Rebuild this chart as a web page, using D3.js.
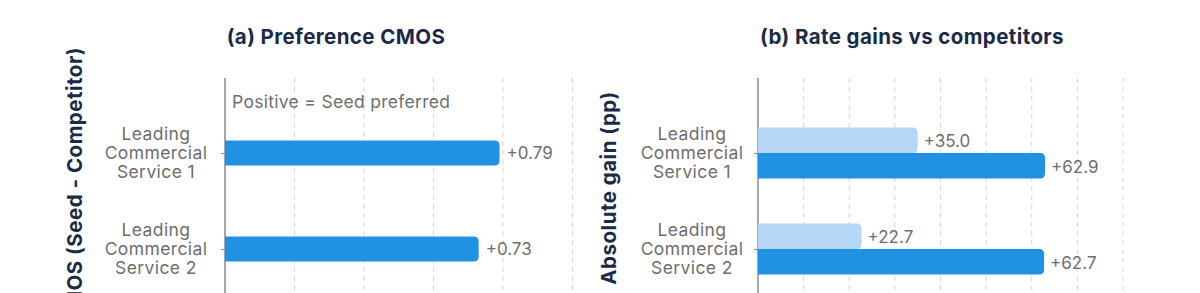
<!DOCTYPE html>
<html>
<head>
<meta charset="utf-8">
<script src="https://cdn.jsdelivr.net/npm/d3@7"></script>
<style>
  body { margin: 0; background: #fff; }
  svg { display: block; font-family: Inter, "Open Sans", sans-serif; }
</style>
</head>
<body>
<svg id="chart" width="1200" height="293"></svg>
<script>
// data
const categories = ["Leading Commercial Service 1", "Leading Commercial Service 2"];
const categoryLines = [["Leading", "Commercial", "Service 1"], ["Leading", "Commercial", "Service 2"]];
const cmosValues = [0.79, 0.73];
const cmosTicks = [0.2, 0.4, 0.6, 0.8, 1.0];
const gainSeries = ["light", "dark"];
const lightGains = [35.0, 22.7];
const darkGains = [62.9, 62.7];
const gainTicks = [10, 20, 30, 40, 50, 60, 70, 80];

let svg = d3.select("#chart");
let navy = "#1b2b47";
let gray = "#6e6e6e";
let blue = "#2191e3";
let lightBlue = "#b5d7f6";

let plotTop = 78;
let plotBottom = 320; // runs past the bottom edge

// rounded on the right only
function barPath(x0, y, x1, h, r)
{
    r = Math.min(r, (x1 - x0) / 2, h / 2);
    return "M" + x0 + "," + y +
        "H" + (x1 - r) +
        "Q" + x1 + "," + y + " " + x1 + "," + (y + r) +
        "V" + (y + h - r) +
        "Q" + x1 + "," + (y + h) + " " + (x1 - r) + "," + (y + h) +
        "H" + x0 + "Z";
}

let yScale = d3.scalePoint()
    .domain(categories)
    .range([105, 297])
    .padding(0.5);

function drawPanel(opt)
{
    let g = svg.append("g");

    // grid
    g.selectAll(".grid")
        .data(opt.ticks)
        .enter()
        .append("line")
        .attr("x1", (d) => opt.x(d))
        .attr("x2", (d) => opt.x(d))
        .attr("y1", plotTop)
        .attr("y2", plotBottom)
        .attr("stroke", "#d6d6d6")
        .attr("stroke-width", 1)
        .attr("stroke-dasharray", "5,4");

    // axis line
    let yAxis = d3.axisLeft(yScale).tickSize(4).tickFormat("");
    let ax = g.append("g")
        .attr("transform", "translate(" + opt.x(0) + ",0)")
        .call(yAxis);
    ax.select(".domain").remove();
    ax.selectAll(".tick line").attr("stroke", "#8a8a8a");
    g.append("line")
        .attr("x1", opt.x(0)).attr("x2", opt.x(0))
        .attr("y1", plotTop).attr("y2", plotBottom)
        .attr("stroke", "#8a8a8a")
        .attr("stroke-width", 1.5);

    // category labels
    categories.forEach(function(c, i){
        let t = g.append("text")
            .attr("x", opt.labelX)
            .attr("y", yScale(c) - 19)
            .attr("text-anchor", "middle")
            .attr("fill", gray)
            .attr("font-size", 17.5)
            .attr("letter-spacing", 0.4);
        categoryLines[i].forEach(function(line, j){
            t.append("tspan")
                .attr("x", opt.labelX)
                .attr("dy", j == 0 ? "0.35em" : 19)
                .text(line);
        });
    });

    // title
    g.append("text")
        .attr("x", opt.titleX)
        .attr("y", 44)
        .attr("text-anchor", "middle")
        .attr("fill", navy)
        .attr("font-weight", 700)
        .attr("font-size", 20.5)
        .attr("letter-spacing", 0.4)
        .text(opt.title);

    // y axis title
    g.append("text")
        .attr("transform", "translate(" + opt.yTitleX + "," + opt.yTitleY + ") rotate(-90)")
        .attr("text-anchor", opt.yTitleAnchor)
        .attr("fill", navy)
        .attr("font-weight", 700)
        .attr("font-size", 20.5)
        .attr("letter-spacing", 0.5)
        .text(opt.yTitle);

    return g;
}

// (a) Preference CMOS
let xA = d3.scaleLinear().domain([0, 1.0]).range([225, 572.5]);
let gA = drawPanel({
    x: xA, ticks: cmosTicks, labelX: 156, titleX: 336,
    title: "(a) Preference CMOS",
    yTitle: "CMOS (Seed - Competitor)", yTitleX: 82, yTitleY: 47, yTitleAnchor: "end"
});

gA.append("text")
    .attr("x", 232)
    .attr("y", 108)
    .attr("fill", gray)
    .attr("font-size", 17.5)
    .attr("letter-spacing", 0.3)
    .text("Positive = Seed preferred");

let barH = 25;
gA.selectAll(".bar")
    .data(cmosValues)
    .enter()
    .append("path")
    .attr("fill", blue)
    .attr("d", (d, i) => barPath(xA(0), yScale(categories[i]) - barH / 2, xA(d), barH, 5));

gA.selectAll(".val")
    .data(cmosValues)
    .enter()
    .append("text")
    .attr("x", (d) => xA(d) + 7)
    .attr("y", (d, i) => yScale(categories[i]))
    .attr("dy", "0.35em")
    .attr("fill", gray)
    .attr("font-size", 17)
    .text((d) => "+" + d.toFixed(2));

// (b) Rate gains vs competitors
let xB = d3.scaleLinear().domain([0, 80]).range([758, 1123]);
let gB = drawPanel({
    x: xB, ticks: gainTicks, labelX: 692, titleX: 912,
    title: "(b) Rate gains vs competitors",
    yTitle: "Absolute gain (pp)", yTitleX: 616, yTitleY: 188, yTitleAnchor: "middle"
});

let sub = d3.scaleBand().domain(gainSeries).range([-25.5, 25.5]);
let gainRows = [];
categories.forEach(function(c, i){
    gainRows.push({cat: c, series: "light", value: lightGains[i]});
    gainRows.push({cat: c, series: "dark", value: darkGains[i]});
});

gB.selectAll(".bar")
    .data(gainRows)
    .enter()
    .append("path")
    .attr("fill", (d) => d.series == "light" ? lightBlue : blue)
    .attr("d", (d) => barPath(xB(0), yScale(d.cat) + sub(d.series), xB(d.value), sub.bandwidth(), 5));

gB.selectAll(".val")
    .data(gainRows)
    .enter()
    .append("text")
    .attr("x", (d) => xB(d.value) + 6)
    .attr("y", (d) => yScale(d.cat) + sub(d.series) + sub.bandwidth() / 2 + 1)
    .attr("dy", "0.35em")
    .attr("fill", gray)
    .attr("font-size", 17)
    .text((d) => "+" + d.value.toFixed(1));
</script>
</body>
</html>
